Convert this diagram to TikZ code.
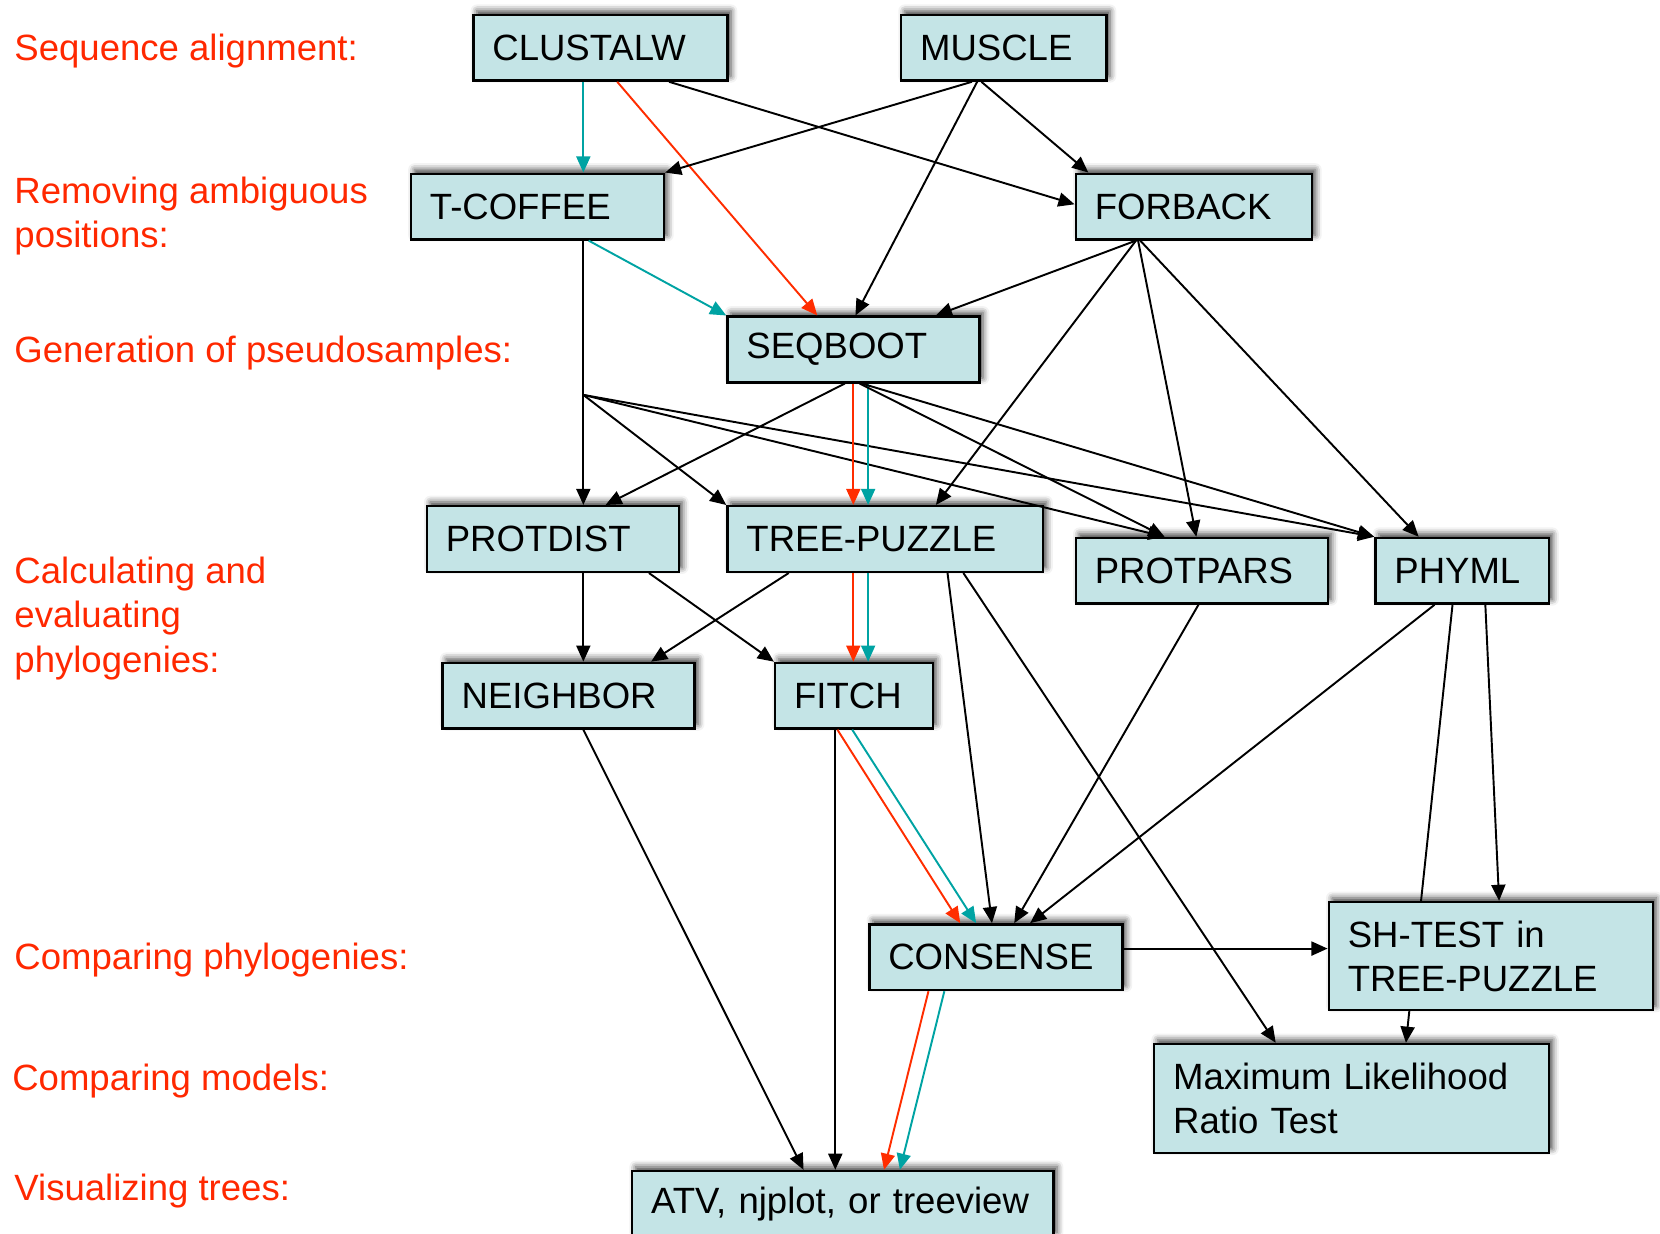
\documentclass[tikz,border=0pt]{standalone}
\usepackage{fontspec}
\setmainfont{Liberation Sans}
\usetikzlibrary{arrows.meta,shadows.blur,backgrounds}
\definecolor{boxcol}{RGB}{196,228,230}
\definecolor{lblred}{RGB}{255,40,0}
\definecolor{arrred}{RGB}{255,45,0}
\definecolor{arrteal}{RGB}{0,163,163}
\begin{document}
\begin{tikzpicture}[x=0.010587cm,y=-0.010587cm,>={Triangle[length=4.6pt,width=4pt]},
	font=\fontsize{10.4}{12.6}\selectfont,
	prog/.style={draw,line width=0.7pt,fill=boxcol,anchor=north west,text width=#1,align=left,
		inner xsep=0.19cm,inner ysep=0pt,minimum height=0.656cm,
		blur shadow={shadow xshift=1pt,shadow yshift=1.2pt,shadow blur radius=1.8pt,shadow opacity=75}},
	lbl/.style={anchor=base west,text=lblred,align=left,inner sep=0pt},
	arr/.style={->,line width=0.55pt},
	redarr/.style={arr,arrred},
	tealarr/.style={arr,arrteal}]
		\useasboundingbox (0,0) rectangle (1568,1165);
		% steps
		\node[lbl] (l1) at (13,57) {Sequence alignment:};
		\node[lbl] (l2) at (13,234) {Removing ambiguous\\positions:};
		\node[lbl] (l3) at (13,342) {Generation of pseudosamples:};
		\node[lbl] (l4) at (13,635) {Calculating and\\evaluating\\phylogenies:};
		\node[lbl] (l5) at (13,916) {Comparing phylogenies:};
		\node[lbl] (l6) at (11,1030) {Comparing models:};
		\node[lbl] (l7) at (13,1134) {Visualizing trees:};
		% programs
		\node[prog=2.161cm] (clustalw) at (446,13) {CLUSTALW};
		\node[prog=1.674cm] (muscle) at (850,13) {MUSCLE};
		\node[prog=2.150cm] (tcoffee) at (387,163) {T-COFFEE};
		\node[prog=1.981cm] (forback) at (1015,163) {FORBACK};
		\node[prog=2.140cm] (seqboot) at (686,298) {SEQBOOT};
		\node[prog=2.140cm] (protdist) at (402,477) {PROTDIST};
		\node[prog=2.775cm] (treepuzzle) at (686,477) {TREE-PUZZLE};
		\node[prog=2.140cm] (protpars) at (1015,507) {PROTPARS};
		\node[prog=1.356cm] (phyml) at (1298,507) {PHYML};
		\node[prog=2.140cm] (neighbor) at (417,625) {NEIGHBOR};
		\node[prog=1.197cm] (fitch) at (731,625) {FITCH};
		\node[prog=2.150cm] (consense) at (820,872) {CONSENSE};
		\node[prog=2.860cm,minimum height=1.08cm] (shtest) at (1254,851) {SH-TEST in\\TREE-PUZZLE};
		\node[prog=3.569cm,minimum height=1.09cm] (mltest) at (1089,985) {Maximum Likelihood\\Ratio Test};
		\node[prog=3.834cm] (viewer) at (596,1105) {ATV, njplot, or treeview};
		\coordinate (split) at (551,373);
		% connectors
		\draw[tealarr] (clustalw.south -| 551,0) -- (tcoffee.north -| 551,0);
		\draw[redarr] (clustalw.south -| 583,0) -- (seqboot.north -| 772,0);
		\draw[arr] (clustalw.south -| 632,0) -- (forback.west |- 0,193);
		\draw[arr] (muscle.south -| 918,0) -- (tcoffee.north east);
		\draw[arr] (muscle.south -| 923,0) -- (seqboot.north -| 808,0);
		\draw[arr] (muscle.south -| 927,0) -- (forback.north -| 1028,0);
		\draw[arr] (forback.south -| 1073,0) -- (seqboot.north -| 884,0);
		\draw[arr] (forback.south -| 1073,0) -- (treepuzzle.north -| 884,0);
		\draw[arr] (forback.south -| 1075,0) -- (protpars.north -| 1130,0);
		\draw[arr] (forback.south -| 1077,0) -- (phyml.north -| 1340,0);
		\draw[tealarr] (tcoffee.south -| 556,0) -- (seqboot.north west);
		\draw[arr] (tcoffee.south -| 551,0) -- (protdist.north -| 551,0);
		\draw[arr] (split) -- (treepuzzle.north west);
		\draw[arr] (split) -- (protpars.north -| 1100,0);
		\draw[arr] (split) -- (phyml.north west);
		\draw[arr] (seqboot.south -| 798,0) -- (protdist.north -| 572,0);
		\draw[redarr] (seqboot.south -| 806,0) -- (treepuzzle.north -| 806,0);
		\draw[tealarr] (seqboot.south -| 820,0) -- (treepuzzle.north -| 820,0);
		\draw[arr] (seqboot.south -| 812,0) -- (protpars.north -| 1100,0);
		\draw[arr] (seqboot.south -| 814,0) -- (phyml.north west);
		\draw[arr] (treepuzzle.south -| 745,0) -- (neighbor.north -| 615,0);
		\draw[redarr] (treepuzzle.south -| 806,0) -- (fitch.north -| 806,0);
		\draw[tealarr] (treepuzzle.south -| 820,0) -- (fitch.north -| 820,0);
		\draw[arr] (treepuzzle.south -| 895,0) -- (consense.north -| 937,0);
		\draw[arr] (treepuzzle.south -| 910,0) -- (mltest.north -| 1205,0);
		\draw[arr] (protdist.south -| 551,0) -- (neighbor.north -| 551,0);
		\draw[arr] (protdist.south -| 613,0) -- (fitch.north west);
		\draw[arr] (neighbor.south -| 551,0) -- (viewer.north -| 759,0);
		\draw[arr] (fitch.south -| 789,0) -- (viewer.north -| 789,0);
		\draw[redarr] (fitch.south -| 791,0) -- (consense.north -| 907,0);
		\draw[tealarr] (fitch.south -| 805,0) -- (consense.north -| 922,0);
		\draw[arr] (protpars.south -| 1132,0) -- (consense.north -| 958,0);
		\draw[arr] (phyml.south -| 1355,0) -- (consense.north -| 973,0);
		\draw[arr] (phyml.south -| 1403,0) -- (shtest.north -| 1416,0);
		\begin{pgfonlayer}{background}
			\draw[arr] (phyml.south -| 1372,0) -- (mltest.north -| 1328,0);
		\end{pgfonlayer}
		\draw[arr] (consense.east |- 0,896) -- (shtest.west |- 0,896);
		\draw[redarr] (consense.south -| 877,0) -- (viewer.north -| 835,0);
		\draw[tealarr] (consense.south -| 892,0) -- (viewer.north -| 850,0);
	\end{tikzpicture}
\end{document}
